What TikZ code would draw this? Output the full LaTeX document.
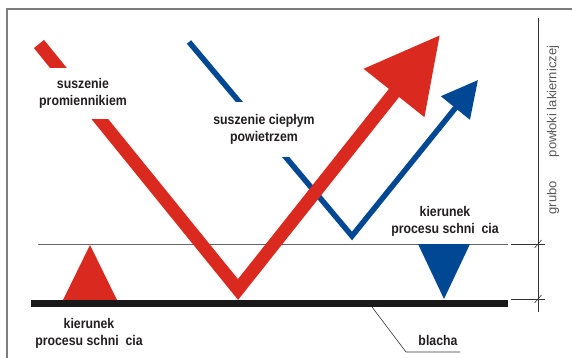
\documentclass[tikz,border=0pt]{standalone}
\usepackage{fontspec}
\setmainfont{Liberation Sans}
\usetikzlibrary{arrows.meta, positioning}

\definecolor{lakred}{RGB}{218,41,30}
\definecolor{lakblue}{RGB}{0,72,148}
\definecolor{txtgray}{RGB}{35,31,32}
\definecolor{framegray}{RGB}{125,125,125}

\begin{document}
\begin{tikzpicture}[x=1pt,y=-1pt,
    lbl/.style={font=\fontsize{14}{17}\selectfont\bfseries, text=txtgray, align=center, inner sep=0pt, xscale=0.88},
    gap/.style={lbl, fill=white},
    redline/.style={lakred, line width=13pt},
    blueline/.style={lakblue, line width=5.5pt},
    dim/.style={black!80, line width=0.6pt}]
    \useasboundingbox (0,0) rectangle (572,358);
    % frame
    \draw[framegray, line width=1.5pt] (7,358) -- (7,9) -- (572,9);

    \coordinate (surfL) at (38,244);
    \coordinate (surfR) at (508,244);
    \coordinate (plateL) at (31,303.5);
    \coordinate (plateR) at (508,303.5);
    \draw[black!60, line width=1pt] (surfL) -- (surfR);

    % direction triangles
    \fill[lakred] (63,300) -- (90,245) -- (117,300) -- cycle;
    \fill[lakblue] (418,244) -- (470,244) -- (444,299) -- cycle;

    % plate
    \draw[black!90, line width=7pt] (plateL) -- (plateR);

    % warm air
    \coordinate (blueA) at (189,42);
    \coordinate (blueV) at (352,236);
    \coordinate (blueT) at (478,80);
    \draw[blueline, -{Triangle[length=36pt,width=36pt]}] (blueA) -- (blueV) -- (blueT);
    \node[gap, minimum height=55pt, minimum width=110pt] (airtxt) at (264,129.5) {suszenie ciepłym\\powietrzem};

    % radiator
    \coordinate (redA) at (39,44);
    \coordinate (redV) at (238,289.5);
    \coordinate (redT) at (440,35);
    \draw[redline, -{Triangle[length=74pt,width=74pt]}] (redA) -- (redV) -- (redT);
    \node[gap, minimum height=51pt, minimum width=100pt] (radtxt) at (83,93.5) {suszenie\\promiennikiem};

    % direction labels
    \node[lbl] (dirL) at (89,333) {kierunek\\procesu schni\ \ cia};
    \node[lbl] (dirR) at (445,221.5) {kierunek\\procesu schni\ \ cia};

    % plate label
    \node[lbl] (blacha) at (438,340) {blacha};
    \coordinate (leadA) at (372,307);
    \coordinate (leadB) at (406,352);
    \coordinate (leadC) at (460,352);
    \draw[black!80, line width=0.6pt] (leadA) -- (leadB) -- (leadC);

    % thickness dimension
    \coordinate (dimT) at (538,18);
    \coordinate (dimB) at (538,312);
    \draw[dim] (dimT) -- (dimB);
    \draw[dim] (511,244) -- (545,244);
    \draw[dim] (511,299) -- (545,299);
    \draw[dim] (534.5,248) -- (541.5,240);
    \draw[dim] (534.5,303) -- (541.5,295);
    \node[rotate=90, font=\fontsize{13}{15}\selectfont, text=black!65, inner sep=0pt] (thick) at (553,130)
        {grubo\hspace{24pt}powłoki lakierniczej};
\end{tikzpicture}
\end{document}
